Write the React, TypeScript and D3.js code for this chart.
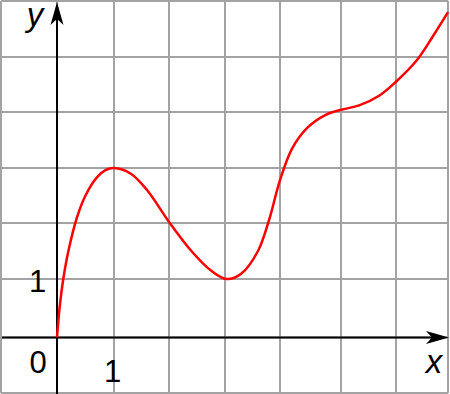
import React from "react";
import * as d3 from "d3";

const W = 450;
const H = 394;

// grid units (the grid in the picture is slightly uneven, so a polylinear scale is used)
const xUnits = [-1, 0, 1, 2, 3, 4, 5, 6, 7];
const xPixels = [1, 57, 114, 169, 225, 280, 341, 396, 448];
const yUnits = [-1, 0, 1, 2, 3, 4, 5, 6];
const yPixels = [393, 337.5, 279, 223, 168, 112, 57, 1];

// curve values
const curveX = [0, 0.05, 0.11, 0.2, 0.35, 0.5, 0.7, 0.85, 1.0, 1.3, 1.6, 2.0, 2.4, 2.75, 3.03, 3.3, 3.6, 3.8, 4.0, 4.2, 4.45, 4.75, 5.0, 5.33, 5.7, 6.0, 6.4, 6.71, 7.0];
const curveY = [0, 0.55, 1.0, 1.5, 2.1, 2.5, 2.83, 2.96, 3.0, 2.9, 2.6, 2.02, 1.5, 1.15, 1.0, 1.1, 1.5, 2.05, 2.78, 3.35, 3.72, 3.95, 4.04, 4.12, 4.3, 4.55, 4.94, 5.37, 5.8];

export default function App() {
  const x = d3.scaleLinear().domain(xUnits).range(xPixels);
  const y = d3.scaleLinear().domain(yUnits).range(yPixels);

  const pts: [number, number][] = curveX.map((v, i) => [v, curveY[i]]);
  const line = d3
    .line<[number, number]>()
    .x((d) => x(d[0]))
    .y((d) => y(d[1]))
    .curve(d3.curveCatmullRom.alpha(0.5));

  const x0 = x(0);
  const y0 = y(0);
  const gridColor = "#a3a3a3";
  const font = "Liberation Sans, Arial, sans-serif";

  return (
    <svg
      width={W}
      height={H}
      style={{ position: "absolute", left: 0, top: 0, background: "#fff" }}
    >
      <rect x={0} y={0} width={W} height={H} fill="#fff" />
      {xUnits.map((u) => (
        <line key={"vx" + u} x1={x(u)} x2={x(u)} y1={y(6)} y2={y(-1)} stroke={gridColor} strokeWidth={2} />
      ))}
      {yUnits.map((u) => (
        <line key={"hy" + u} x1={x(-1)} x2={x(7)} y1={y(u)} y2={y(u)} stroke={gridColor} strokeWidth={2} />
      ))}
      {/* axes */}
      <line x1={x(-1) + 1} x2={W - 14} y1={y0} y2={y0} stroke="#000" strokeWidth={2} />
      <line x1={x0} x2={x0} y1={H} y2={14} stroke="#000" strokeWidth={2} />
      <path
        d={`M${W - 1},${y0} L${W - 24},${y0 - 6.5} L${W - 18},${y0} L${W - 24},${y0 + 6.5} Z`}
        fill="#000"
      />
      <path
        d={`M${x0},2 L${x0 - 6.5},25 L${x0},19 L${x0 + 6.5},25 Z`}
        fill="#000"
      />
      {/* curve */}
      <path d={line(pts) || ""} fill="none" stroke="#ff0000" strokeWidth={2.5} strokeLinejoin="round" />
      {/* labels */}
      <text x={37.5} y={292} fontSize={31} fontFamily={font} textAnchor="middle" fill="#000">1</text>
      <text x={38} y={373} fontSize={31} fontFamily={font} textAnchor="middle" fill="#000">0</text>
      <text x={112.5} y={382} fontSize={31} fontFamily={font} textAnchor="middle" fill="#000">1</text>
      <text x={434} y={373} fontSize={33} fontFamily={font} fontStyle="italic" textAnchor="middle" fill="#000">x</text>
      <text x={35} y={26} fontSize={33} fontFamily={font} fontStyle="italic" textAnchor="middle" fill="#000">y</text>
    </svg>
  );
}
